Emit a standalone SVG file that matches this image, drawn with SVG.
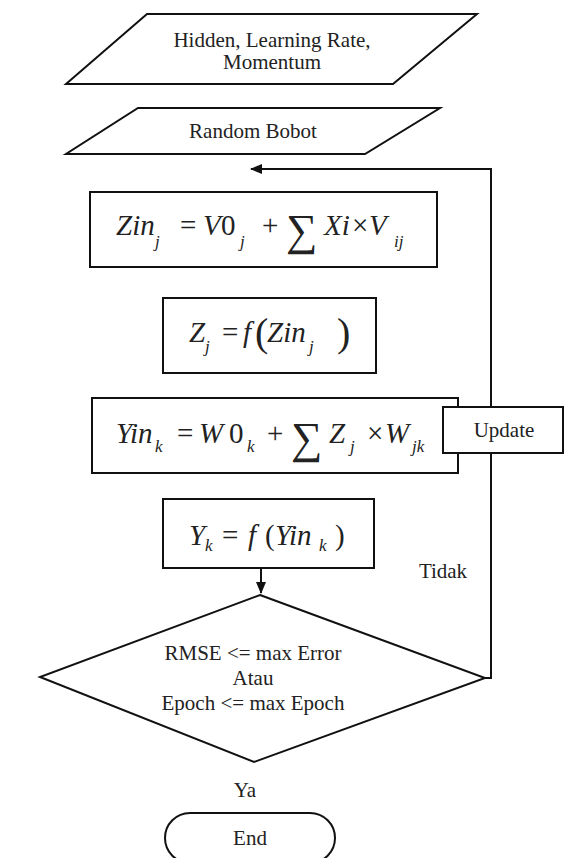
<svg xmlns="http://www.w3.org/2000/svg" width="564" height="858" viewBox="0 0 564 858">
<defs>
<marker id="ah" markerWidth="12" markerHeight="10" refX="11" refY="5" orient="auto" markerUnits="userSpaceOnUse">
<path d="M0,0 L12,5 L0,10 Z" fill="#111"/>
</marker>
</defs>
<style>
.s{fill:#fff;stroke:#111;stroke-width:2}
.c{fill:none;stroke:#111;stroke-width:2}
.t{font-family:"Liberation Serif","Times New Roman",serif;font-size:21px;fill:#222;text-anchor:middle}
.m{font-family:"Liberation Serif","Times New Roman",serif;font-size:29px;fill:#222}
.i{font-style:italic}
.sb{font-size:17px;font-style:italic}
.sg{font-size:44px}
.pr{font-size:40px}
</style>
<rect width="564" height="858" fill="#fff"/>
<g id="connectors">
<path class="c" d="M491,407 V169 H251" marker-end="url(#ah)"/>
<path class="c" d="M485,678 H491 V453"/>
<path class="c" d="M261,557 V593" marker-end="url(#ah)"/>
</g>
<g id="input1">
<polygon class="s" points="147,14 477,14 393,84 66,84"/>
<text class="t" x="272" y="47">Hidden, Learning Rate,</text>
<text class="t" x="272" y="69">Momentum</text>
</g>
<g id="input2">
<polygon class="s" points="138,108 440,108 365,154 66,154"/>
<text class="t" x="253" y="138">Random Bobot</text>
</g>
<g id="zin">
<rect class="s" x="90" y="192" width="347" height="75"/>
<text class="m"><tspan class="i" x="116" y="235">Zin</tspan><tspan class="sb" x="155" y="247">j</tspan><tspan x="180" y="235">=</tspan><tspan class="i" x="203" y="235">V</tspan><tspan x="221" y="235">0</tspan><tspan class="sb" x="240" y="247">j</tspan><tspan x="262" y="235">+</tspan><tspan class="sg" x="286" y="245">∑</tspan><tspan class="i" x="324" y="235">Xi</tspan><tspan x="352" y="235">×</tspan><tspan class="i" x="369" y="235">V</tspan><tspan class="sb" x="394" y="247">ij</tspan></text>
</g>
<g id="zj">
<rect class="s" x="163" y="298" width="213" height="75"/>
<text class="m"><tspan class="i" x="189" y="342">Z</tspan><tspan class="sb" x="205" y="352">j</tspan><tspan x="222" y="342">=</tspan><tspan class="i" x="243" y="342">f</tspan><tspan class="pr" x="255" y="346">(</tspan><tspan class="i" x="267" y="342">Zin</tspan><tspan class="sb" x="309" y="352">j</tspan><tspan class="pr" x="337" y="346">)</tspan></text>
</g>
<g id="yin">
<rect class="s" x="92" y="398" width="366" height="75"/>
<text class="m"><tspan class="i" x="116" y="443">Yin</tspan><tspan class="sb" x="155" y="452">k</tspan><tspan x="177" y="443">=</tspan><tspan class="i" x="199" y="443">W</tspan><tspan x="229" y="443">0</tspan><tspan class="sb" x="247" y="452">k</tspan><tspan x="267" y="443">+</tspan><tspan class="sg" x="291" y="453">∑</tspan><tspan class="i" x="329" y="443">Z</tspan><tspan class="sb" x="350" y="452">j</tspan><tspan x="367" y="443">×</tspan><tspan class="i" x="385" y="443">W</tspan><tspan class="sb" x="412" y="452">jk</tspan></text>
</g>
<g id="update">
<rect class="s" x="443" y="407" width="120" height="46"/>
<text class="t" x="504" y="437">Update</text>
</g>
<g id="yk">
<rect class="s" x="163" y="499" width="211" height="69"/>
<text class="m"><tspan class="i" x="189" y="545">Y</tspan><tspan class="sb" x="205" y="551">k</tspan><tspan x="222" y="545">=</tspan><tspan class="i" x="248" y="545">f</tspan><tspan x="265" y="545">(</tspan><tspan class="i" x="275" y="545">Yin</tspan><tspan class="sb" x="319" y="551">k</tspan><tspan x="335" y="545">)</tspan></text>
</g>
<g id="decision">
<polygon class="s" points="260,595 485,678 254,762 40,677"/>
<text class="t" x="253" y="660">RMSE &lt;= max Error</text>
<text class="t" x="253" y="685">Atau</text>
<text class="t" x="253" y="710">Epoch &lt;= max Epoch</text>
</g>
<text class="t" x="443" y="578">Tidak</text>
<text class="t" x="245" y="797">Ya</text>
<g id="end">
<rect class="s" x="165" y="813" width="170" height="50" rx="25"/>
<text class="t" x="250" y="845">End</text>
</g>
</svg>
